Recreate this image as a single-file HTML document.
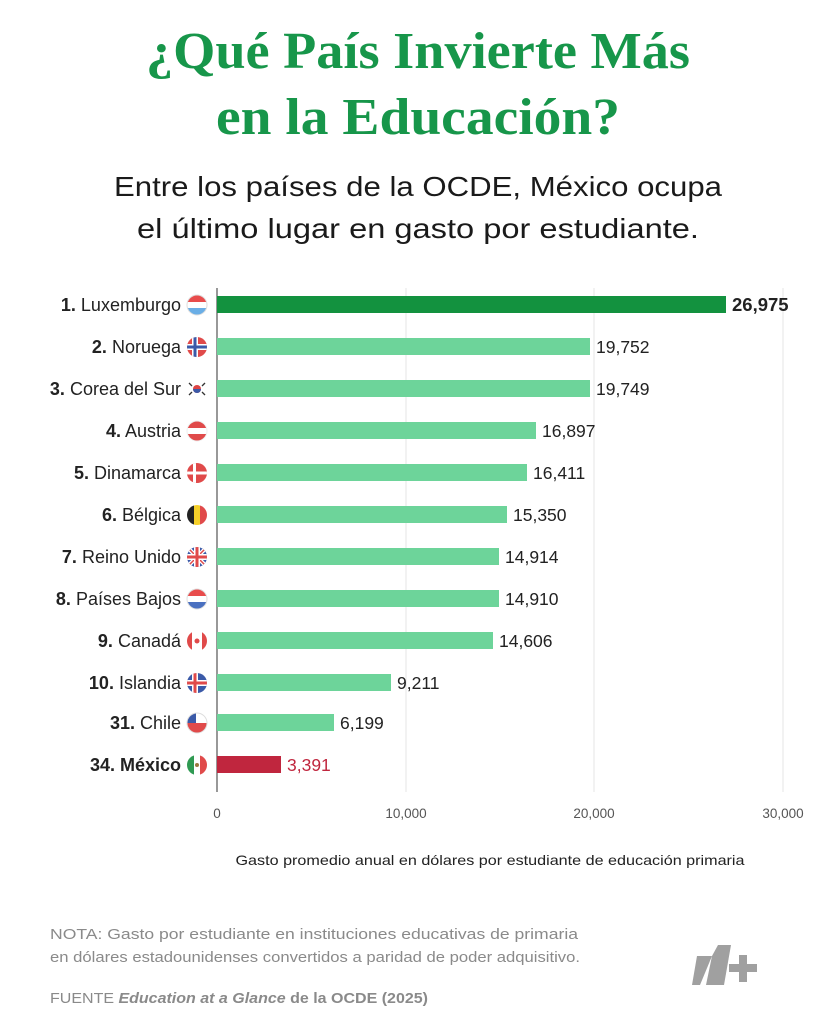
<!DOCTYPE html>
<html><head><meta charset="utf-8"><style>
html,body{margin:0;padding:0;background:#fff;}
svg{display:block}
</style></head><body>
<svg width="835" height="1024" viewBox="0 0 835 1024" xmlns="http://www.w3.org/2000/svg" font-family="Liberation Sans, sans-serif">
<rect width="835" height="1024" fill="#fff"/>
<g font-family="Liberation Serif, serif" font-weight="bold" fill="#17964a" font-size="52">
<text x="418" y="68" text-anchor="middle" textLength="544" lengthAdjust="spacingAndGlyphs">¿Qué País Invierte Más</text>
<text x="418" y="134" text-anchor="middle" textLength="404" lengthAdjust="spacingAndGlyphs">en la Educación?</text>
</g>
<g fill="#1a1a1a" font-size="28">
<text x="418" y="196" text-anchor="middle" textLength="608" lengthAdjust="spacingAndGlyphs">Entre los países de la OCDE, México ocupa</text>
<text x="418" y="238" text-anchor="middle" textLength="562" lengthAdjust="spacingAndGlyphs">el último lugar en gasto por estudiante.</text>
</g>
<g stroke="#e6e6e6" stroke-width="1">
<line x1="406" y1="288" x2="406" y2="792"/><line x1="594" y1="288" x2="594" y2="792"/><line x1="783" y1="288" x2="783" y2="792"/>
</g>
<line x1="217" y1="288" x2="217" y2="792" stroke="#555" stroke-width="1.2"/>
<g font-size="17.5" fill="#222">
<rect x="217" y="296" width="509" height="17" fill="#13923f"/>
<text x="732" y="311" font-weight="bold" font-size="18.5">26,975</text>
<rect x="217" y="338" width="373" height="17" fill="#6dd49a"/><text x="596" y="353">19,752</text>
<rect x="217" y="380" width="373" height="17" fill="#6dd49a"/><text x="596" y="395">19,749</text>
<rect x="217" y="422" width="319" height="17" fill="#6dd49a"/><text x="542" y="437">16,897</text>
<rect x="217" y="464" width="310" height="17" fill="#6dd49a"/><text x="533" y="479">16,411</text>
<rect x="217" y="506" width="290" height="17" fill="#6dd49a"/><text x="513" y="521">15,350</text>
<rect x="217" y="548" width="282" height="17" fill="#6dd49a"/><text x="505" y="563">14,914</text>
<rect x="217" y="590" width="282" height="17" fill="#6dd49a"/><text x="505" y="605">14,910</text>
<rect x="217" y="632" width="276" height="17" fill="#6dd49a"/><text x="499" y="647">14,606</text>
<rect x="217" y="674" width="174" height="17" fill="#6dd49a"/><text x="397" y="689">9,211</text>
<rect x="217" y="714" width="117" height="17" fill="#6dd49a"/><text x="340" y="729">6,199</text>
<rect x="217" y="756" width="64" height="17" fill="#c0263e"/><text x="287" y="771" fill="#c0263e">3,391</text>
</g>
<g font-size="18" fill="#222" text-anchor="end">
<text x="181" y="311"><tspan font-weight="bold">1.</tspan> Luxemburgo</text>
<text x="181" y="353"><tspan font-weight="bold">2.</tspan> Noruega</text>
<text x="181" y="395"><tspan font-weight="bold">3.</tspan> Corea del Sur</text>
<text x="181" y="437"><tspan font-weight="bold">4.</tspan> Austria</text>
<text x="181" y="479"><tspan font-weight="bold">5.</tspan> Dinamarca</text>
<text x="181" y="521"><tspan font-weight="bold">6.</tspan> Bélgica</text>
<text x="181" y="563"><tspan font-weight="bold">7.</tspan> Reino Unido</text>
<text x="181" y="605"><tspan font-weight="bold">8.</tspan> Países Bajos</text>
<text x="181" y="647"><tspan font-weight="bold">9.</tspan> Canadá</text>
<text x="181" y="689"><tspan font-weight="bold">10.</tspan> Islandia</text>
<text x="181" y="729"><tspan font-weight="bold">31.</tspan> Chile</text>
<text x="181" y="771" font-weight="bold">34. México</text>
</g>
<defs><clipPath id="c"><circle cx="0" cy="0" r="10"/></clipPath></defs>
<g transform="translate(197,305)" clip-path="url(#c)"><rect x="-10" y="-10" width="20" height="7" fill="#e84c4c"/><rect x="-10" y="-3" width="20" height="6" fill="#fff"/><rect x="-10" y="3" width="20" height="7" fill="#6aaee6"/></g>
<circle cx="197" cy="305" r="10" fill="none" stroke="#ddd"/>
<g transform="translate(197,347)" clip-path="url(#c)"><rect x="-10" y="-10" width="20" height="20" fill="#e04a4a"/><rect x="-10" y="-3" width="20" height="6" fill="#fff"/><rect x="-5" y="-10" width="6" height="20" fill="#fff"/><rect x="-10" y="-1.5" width="20" height="3" fill="#3b5aa8"/><rect x="-3.5" y="-10" width="3" height="20" fill="#3b5aa8"/></g>
<g transform="translate(197,389)"><circle r="10" fill="#fff"/><circle r="4" fill="#d44"/><path d="M-4 0a4 4 0 0 0 8 0z" fill="#3b5aa8"/><g stroke="#333" stroke-width="1.3"><line x1="-8" y1="-6" x2="-5" y2="-3"/><line x1="8" y1="-6" x2="5" y2="-3"/><line x1="-8" y1="6" x2="-5" y2="3"/><line x1="8" y1="6" x2="5" y2="3"/></g></g>
<g transform="translate(197,431)" clip-path="url(#c)"><rect x="-10" y="-10" width="20" height="20" fill="#e04a4a"/><rect x="-10" y="-3" width="20" height="6" fill="#fff"/></g>
<circle cx="197" cy="431" r="10" fill="none" stroke="#eee"/>
<g transform="translate(197,473)" clip-path="url(#c)"><rect x="-10" y="-10" width="20" height="20" fill="#e04a4a"/><rect x="-10" y="-1.5" width="20" height="3" fill="#fff"/><rect x="-4" y="-10" width="3" height="20" fill="#fff"/></g>
<g transform="translate(197,515)" clip-path="url(#c)"><rect x="-10" y="-10" width="7" height="20" fill="#222"/><rect x="-3" y="-10" width="6" height="20" fill="#f5d02a"/><rect x="3" y="-10" width="7" height="20" fill="#e04a4a"/></g>
<g transform="translate(197,557)" clip-path="url(#c)"><rect x="-10" y="-10" width="20" height="20" fill="#3b5aa8"/><path d="M-10 -10L10 10M10 -10L-10 10" stroke="#fff" stroke-width="4"/><path d="M-10 -10L10 10M10 -10L-10 10" stroke="#e04a4a" stroke-width="1.5"/><rect x="-10" y="-3" width="20" height="6" fill="#fff"/><rect x="-3" y="-10" width="6" height="20" fill="#fff"/><rect x="-10" y="-1.5" width="20" height="3" fill="#e04a4a"/><rect x="-1.5" y="-10" width="3" height="20" fill="#e04a4a"/></g>
<g transform="translate(197,599)" clip-path="url(#c)"><rect x="-10" y="-10" width="20" height="7" fill="#e84c4c"/><rect x="-10" y="-3" width="20" height="6" fill="#fff"/><rect x="-10" y="3" width="20" height="7" fill="#4a70c0"/></g>
<circle cx="197" cy="599" r="10" fill="none" stroke="#ddd"/>
<g transform="translate(197,641)" clip-path="url(#c)"><rect x="-10" y="-10" width="20" height="20" fill="#fff"/><rect x="-10" y="-10" width="5" height="20" fill="#e04a4a"/><rect x="5" y="-10" width="5" height="20" fill="#e04a4a"/><circle r="2.5" fill="#e04a4a"/></g>
<g transform="translate(197,683)" clip-path="url(#c)"><rect x="-10" y="-10" width="20" height="20" fill="#3b5aa8"/><rect x="-10" y="-3" width="20" height="6" fill="#fff"/><rect x="-5" y="-10" width="6" height="20" fill="#fff"/><rect x="-10" y="-1.5" width="20" height="3" fill="#e04a4a"/><rect x="-3.5" y="-10" width="3" height="20" fill="#e04a4a"/></g>
<g transform="translate(197,723)" clip-path="url(#c)"><rect x="-10" y="-10" width="20" height="10" fill="#fff"/><rect x="-10" y="0" width="20" height="10" fill="#e04a4a"/><rect x="-10" y="-10" width="9" height="10" fill="#3b5aa8"/></g>
<circle cx="197" cy="723" r="10" fill="none" stroke="#ddd"/>
<g transform="translate(197,765)" clip-path="url(#c)"><rect x="-10" y="-10" width="20" height="20" fill="#fff"/><rect x="-10" y="-10" width="7" height="20" fill="#2f9a52"/><rect x="3" y="-10" width="7" height="20" fill="#e04a4a"/><circle r="2" fill="#9a7a40"/></g>
<g font-size="13.5" fill="#555" text-anchor="middle">
<text x="217" y="818">0</text><text x="406" y="818">10,000</text><text x="594" y="818">20,000</text><text x="783" y="818">30,000</text>
</g>
<text x="490" y="865" font-size="14" fill="#222" text-anchor="middle" textLength="509" lengthAdjust="spacingAndGlyphs">Gasto promedio anual en dólares por estudiante de educación primaria</text>
<g fill="#8a8a8a" font-size="14.5">
<text x="50" y="939" textLength="528" lengthAdjust="spacingAndGlyphs">NOTA: Gasto por estudiante en instituciones educativas de primaria</text>
<text x="50" y="962" textLength="530" lengthAdjust="spacingAndGlyphs">en dólares estadounidenses convertidos a paridad de poder adquisitivo.</text>
<text x="50" y="1003" textLength="378" lengthAdjust="spacingAndGlyphs">FUENTE <tspan font-weight="bold" font-style="italic">Education at a Glance</tspan><tspan font-weight="bold"> de la OCDE (2025)</tspan></text>
</g>
<g fill="#a0a0a0">
<polygon points="697,956 712,956 700,985 692,985"/>
<polygon points="712,956 718,945 731,945 724,985 706,985"/>
<rect x="739" y="955" width="8" height="27"/><rect x="729" y="964" width="28" height="8"/>
</g>
</svg>
</body></html>
